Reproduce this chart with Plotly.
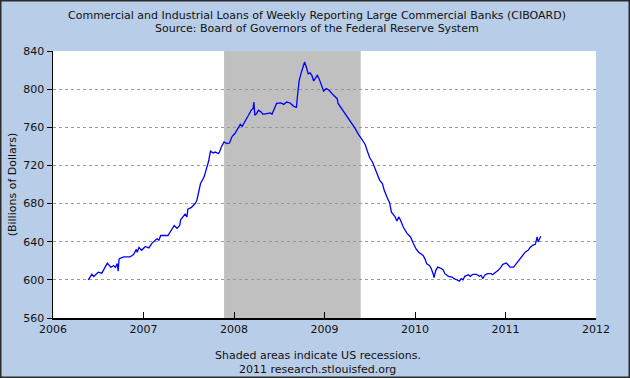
import plotly.graph_objects as go

years = [2006.39, 2006.43, 2006.45, 2006.50, 2006.54, 2006.58, 2006.60, 2006.64, 2006.67, 2006.69,
         2006.71, 2006.72, 2006.73, 2006.78, 2006.85, 2006.89, 2006.92, 2006.93, 2006.95, 2006.98,
         2007.02, 2007.06, 2007.09, 2007.13, 2007.15, 2007.17, 2007.19, 2007.27, 2007.30, 2007.34,
         2007.37, 2007.40, 2007.41, 2007.44, 2007.46, 2007.48, 2007.49, 2007.53, 2007.57, 2007.59,
         2007.61, 2007.63, 2007.67, 2007.70, 2007.72, 2007.74, 2007.77, 2007.79, 2007.83, 2007.84,
         2007.86, 2007.89, 2007.92, 2007.95, 2007.98, 2008.01, 2008.04, 2008.07, 2008.09, 2008.12,
         2008.16, 2008.19, 2008.21, 2008.22, 2008.23, 2008.25, 2008.27, 2008.30, 2008.32, 2008.36,
         2008.40, 2008.42, 2008.45, 2008.47, 2008.52, 2008.55, 2008.58, 2008.62, 2008.66, 2008.69,
         2008.70, 2008.72, 2008.74, 2008.76, 2008.78, 2008.80, 2008.82, 2008.84, 2008.86, 2008.88,
         2008.90, 2008.92, 2008.94, 2008.97, 2008.99, 2009.02, 2009.05, 2009.10, 2009.14, 2009.15,
         2009.19, 2009.23, 2009.26, 2009.30, 2009.34, 2009.37, 2009.41, 2009.45, 2009.47, 2009.50,
         2009.53, 2009.56, 2009.58, 2009.61, 2009.64, 2009.66, 2009.69, 2009.72, 2009.74, 2009.78,
         2009.80, 2009.82, 2009.84, 2009.87, 2009.91, 2009.95, 2009.98, 2010.01, 2010.04, 2010.09,
         2010.11, 2010.13, 2010.16, 2010.18, 2010.20, 2010.21, 2010.23, 2010.25, 2010.28, 2010.31,
         2010.33, 2010.37, 2010.41, 2010.43, 2010.46, 2010.49, 2010.51, 2010.53, 2010.55, 2010.59,
         2010.61, 2010.64, 2010.68, 2010.71, 2010.73, 2010.75, 2010.77, 2010.80, 2010.84, 2010.86,
         2010.88, 2010.92, 2010.95, 2010.97, 2011.01, 2011.05, 2011.09, 2011.12, 2011.15, 2011.19,
         2011.22, 2011.25, 2011.27, 2011.30, 2011.33, 2011.35, 2011.36, 2011.39]

# Loans, billions of dollars
loans = [600.0, 606.0, 603.5, 608.0, 607.0, 613.5, 617.5, 613.0, 615.0, 613.0,
         617.0, 609.0, 622.0, 624.0, 624.0, 626.5, 632.0, 629.0, 634.0, 631.0,
         635.0, 633.5, 638.0, 641.5, 643.0, 641.5, 646.5, 646.5, 651.0, 657.0,
         654.0, 657.0, 663.0, 666.0, 669.0, 666.0, 674.0, 676.0, 680.0, 683.5,
         692.0, 701.0, 708.0, 718.5, 724.6, 735.0, 733.0, 734.0, 732.5, 734.0,
         739.3, 744.6, 743.0, 743.5, 750.5, 753.4, 757.6, 763.0, 761.0, 765.5,
         772.6, 778.0, 779.6, 786.5, 772.6, 774.3, 778.0, 776.0, 773.6, 774.3,
         775.0, 773.6, 781.0, 785.0, 785.5, 784.0, 786.5, 785.5, 782.0, 781.0,
         791.8, 809.0, 816.3, 821.5, 828.5, 823.0, 816.0, 817.0, 814.5, 808.6,
         812.0, 814.5, 811.0, 804.0, 798.0, 800.6, 798.8, 793.5, 790.0, 785.0,
         779.6, 774.3, 769.0, 764.0, 758.6, 753.4, 748.0, 742.0, 736.0, 728.0,
         723.6, 716.5, 711.4, 704.4, 701.0, 693.9, 687.0, 680.6, 671.0, 666.0,
         661.7, 666.0, 662.5, 655.4, 649.0, 645.0, 638.6, 632.6, 629.0, 625.6,
         622.0, 616.7, 615.0, 611.7, 606.5, 602.3, 610.0, 613.4, 612.4, 610.7,
         606.5, 603.7, 603.0, 601.2, 600.1, 598.7, 601.2, 600.1, 603.7, 605.4,
         603.7, 605.8, 605.8, 603.7, 604.8, 601.2, 604.8, 606.5, 606.5, 605.4,
         607.2, 610.0, 613.4, 616.3, 617.7, 613.4, 613.4, 617.0, 620.5, 624.7,
         629.3, 631.0, 633.8, 636.2, 637.3, 645.0, 639.7, 645.7]

recession_start = [2007.89]
recession_end = [2009.40]

x_ticks = [2006, 2007, 2008, 2009, 2010, 2011, 2012]
x_tick_labels = ["2006", "2007", "2008", "2009", "2010", "2011", "2012"]
y_ticks = [560, 600, 640, 680, 720, 760, 800, 840]

W, H = 630, 378
ML, MR, MT, MB = 53, 34, 51, 60
PW, PH = W - ML - MR, H - MT - MB

FONT = "DejaVu Sans"

fig = go.Figure()
fig.add_trace(go.Scatter(x=years, y=loans, mode="lines",
                         line=dict(color="#0000FF", width=1.3),
                         hoverinfo="skip", showlegend=False))

for s, e in zip(recession_start, recession_end):
    fig.add_shape(type="rect", xref="x", yref="paper", x0=s, x1=e, y0=0, y1=1,
                  fillcolor="#C0C0C0", line=dict(width=0), layer="between")

# outer border of the image
fig.add_shape(type="rect", xref="paper", yref="paper",
              x0=-ML / PW + 0.75 / PW, x1=1 + MR / PW - 0.75 / PW,
              y0=-MB / PH + 0.75 / PH, y1=1 + MT / PH - 0.75 / PH,
              line=dict(color="#2A2A2A", width=1.5), fillcolor="rgba(0,0,0,0)",
              layer="below")

fig.update_layout(
    width=W, height=H,
    margin=dict(l=ML, r=MR, t=MT, b=MB, pad=0),
    paper_bgcolor="#B8CDE8",
    plot_bgcolor="#FFFFFF",
    font=dict(family=FONT, size=11, color="#111111"),
    showlegend=False,
    xaxis=dict(range=[2006, 2012], tickvals=x_ticks, ticktext=x_tick_labels,
               showgrid=False, zeroline=False, showline=True, linecolor="#000000",
               linewidth=1.5, ticks="inside", ticklen=6, tickcolor="#000000",
               tickwidth=1, tickfont=dict(family=FONT, size=11)),
    yaxis=dict(range=[560, 840], tickvals=y_ticks, showgrid=True,
               gridcolor="#999999", griddash="dot", gridwidth=1,
               zeroline=False, showline=True, linecolor="#000000", linewidth=1.5,
               ticks="outside", ticklen=5, tickcolor="#000000", tickwidth=1,
               tickfont=dict(family=FONT, size=11),
               title=dict(text="(Billions of Dollars)", font=dict(family=FONT, size=11),
                          standoff=4)),
)

fig.add_annotation(xref="paper", yref="paper", x=0.486, y=1 + 36 / PH,
                   text="Commercial and Industrial Loans of Weekly Reporting Large Commercial Banks (CIBOARD)",
                   showarrow=False, font=dict(family=FONT, size=11), xanchor="center", yanchor="middle")
fig.add_annotation(xref="paper", yref="paper", x=0.486, y=1 + 23 / PH,
                   text="Source: Board of Governors of the Federal Reserve System",
                   showarrow=False, font=dict(family=FONT, size=11), xanchor="center", yanchor="middle")
fig.add_annotation(xref="paper", yref="paper", x=0.488, y=-37 / PH,
                   text="Shaded areas indicate US recessions.",
                   showarrow=False, font=dict(family=FONT, size=11), xanchor="center", yanchor="middle")
fig.add_annotation(xref="paper", yref="paper", x=0.488, y=-51 / PH,
                   text="2011 research.stlouisfed.org",
                   showarrow=False, font=dict(family=FONT, size=11), xanchor="center", yanchor="middle")

fig.write_html("out.html", config={"displayModeBar": False, "staticPlot": True},
               post_script="document.body.style.margin='0';document.body.style.overflow='hidden';")
